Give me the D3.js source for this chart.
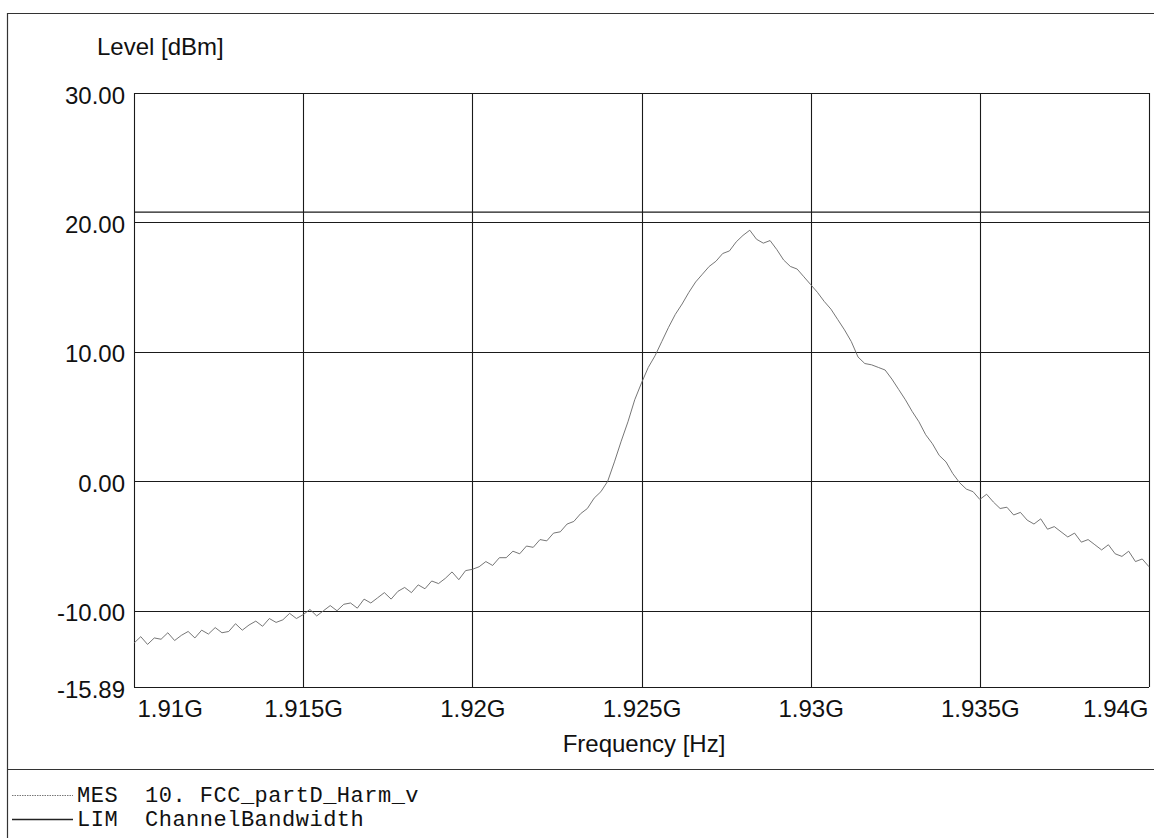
<!DOCTYPE html>
<html>
<head>
<meta charset="utf-8">
<script src="https://cdn.jsdelivr.net/npm/d3@7"></script>
<style>
  html, body { margin: 0; padding: 0; background: #fff; }
  svg { display: block; }
  text { font-family: "Liberation Sans", Arial, sans-serif; fill: #111; }
  .mono { font-family: "Liberation Mono", "Courier New", monospace; }
</style>
</head>
<body>
<svg id="chart" width="1154" height="838"></svg>
<script>
// ---------------- data ----------------
const yTicks = [30, 20, 10, 0, -10, -15.89];
const yTickLabels = ["30.00", "20.00", "10.00", "0.00", "-10.00", "-15.89"];
const xTicks = [1.91e9, 1.915e9, 1.92e9, 1.925e9, 1.93e9, 1.935e9, 1.94e9];
const xTickLabels = ["1.91G", "1.915G", "1.92G", "1.925G", "1.93G", "1.935G", "1.94G"];
const sweepStartHz = 1.91e9;
const sweepStepHz = 0.2e6;
const mesLevels = [
  -12.5, -12.0, -12.6, -12.1, -12.2, -11.7, -12.3, -11.9, -11.6, -12.1,
  -11.5, -11.8, -11.3, -11.7, -11.6, -11.0, -11.5, -11.1, -10.8, -11.2,
  -10.6, -10.9, -10.7, -10.2, -10.6, -10.3, -9.9, -10.4, -10.0, -9.6,
  -10.0, -9.5, -9.4, -9.8, -9.1, -9.4, -9.0, -8.6, -9.1, -8.5,
  -8.2, -8.6, -8.0, -8.3, -7.7, -7.9, -7.5, -7.0, -7.6, -6.9,
  -6.8, -6.6, -6.2, -6.5, -5.9, -5.9, -5.4, -5.6, -5.0, -5.1,
  -4.5, -4.6, -4.0, -3.9, -3.3, -3.1, -2.5, -2.1, -1.3, -0.8,
  0.0, 1.5, 3.1, 4.6, 6.3, 7.6, 8.8, 9.7, 10.8, 11.9,
  12.9, 13.7, 14.6, 15.4, 16.0, 16.6, 17.0, 17.6, 17.8, 18.5,
  19.0, 19.4, 18.7, 18.4, 18.6, 17.9, 17.1, 16.6, 16.4, 15.8,
  15.2, 14.6, 13.9, 13.3, 12.5, 11.7, 10.8, 9.6, 9.1, 9.0,
  8.8, 8.6, 7.9, 7.1, 6.3, 5.4, 4.6, 3.6, 2.9, 2.0,
  1.5, 0.6, -0.1, -0.6, -0.8, -1.4, -1.0, -1.6, -2.1, -2.0,
  -2.6, -2.4, -3.0, -3.3, -2.9, -3.7, -3.5, -3.9, -4.3, -4.0,
  -4.7, -4.5, -4.9, -5.3, -4.9, -5.6, -5.8, -5.4, -6.2, -6.0,
  -6.6
];
const limitLevel = 20.8;
const yTitle = "Level [dBm]";
const xTitle = "Frequency [Hz]";
const legendItems = [
  { key: "MES", name: "10. FCC_partD_Harm_v" },
  { key: "LIM", name: "ChannelBandwidth" }
];

// ---------------- layout ----------------
const svg = d3.select("#chart");
const plot = { left: 134, right: 1149, top: 93, bottom: 687 };

const x = d3.scaleLinear().domain([1.91e9, 1.94e9]).range([plot.left, plot.right]);
const y = d3.scaleLinear().domain([-15.89, 30]).range([plot.bottom, plot.top]);

const ink = "#1a1a1a";

// outer frame
svg.append("line").attr("x1", 7).attr("x2", 1154).attr("y1", 13.5).attr("y2", 13.5)
  .attr("stroke", "#333").attr("stroke-width", 1.2);
svg.append("line").attr("x1", 7.5).attr("x2", 7.5).attr("y1", 13).attr("y2", 838)
  .attr("stroke", "#333").attr("stroke-width", 1.2);
svg.append("line").attr("x1", 7).attr("x2", 1154).attr("y1", 769.5).attr("y2", 769.5)
  .attr("stroke", "#333").attr("stroke-width", 1.2);

// grid
const grid = svg.append("g");
grid.selectAll("line.h").data(yTicks).join("line")
  .attr("x1", plot.left).attr("x2", plot.right)
  .attr("y1", d => Math.round(y(d)) + 0.5).attr("y2", d => Math.round(y(d)) + 0.5)
  .attr("stroke", ink).attr("stroke-width", 1.1);
grid.selectAll("line.v").data(xTicks).join("line")
  .attr("y1", plot.top).attr("y2", plot.bottom)
  .attr("x1", d => Math.round(x(d)) + 0.5).attr("x2", d => Math.round(x(d)) + 0.5)
  .attr("stroke", ink).attr("stroke-width", 1.1);

// y axis labels
const yAxis = d3.axisLeft(y).tickValues(yTicks).tickFormat((d, i) => yTickLabels[i])
  .tickSize(0).tickPadding(9);
const gy = svg.append("g").attr("transform", `translate(${plot.left},0)`).call(yAxis);
gy.select(".domain").remove();
gy.selectAll("text").attr("font-size", 24).attr("dy", "0.42em")
  .style("font-family", "'Liberation Sans', Arial, sans-serif").attr("fill", "#111");

// x axis labels
const xAxis = d3.axisBottom(x).tickValues(xTicks)
  .tickFormat((d, i) => xTickLabels[i]).tickSize(0).tickPadding(13);
const gx = svg.append("g").attr("transform", `translate(0,${plot.bottom})`).call(xAxis);
gx.select(".domain").remove();
gx.selectAll("text").attr("font-size", 24)
  .style("font-family", "'Liberation Sans', Arial, sans-serif").attr("fill", "#111")
  .attr("text-anchor", (d, i) => i === 0 ? "start" : (i === xTicks.length - 1 ? "end" : "middle"))
  .attr("dx", (d, i) => i === 0 ? 3 : (i === xTicks.length - 1 ? -1 : 0));

// titles
svg.append("text").attr("x", 97).attr("y", 55).attr("font-size", 24).text(yTitle);
svg.append("text").attr("x", 644).attr("y", 752).attr("font-size", 24)
  .attr("text-anchor", "middle").text(xTitle);

// limit line
svg.append("line")
  .attr("x1", plot.left).attr("x2", plot.right)
  .attr("y1", y(limitLevel)).attr("y2", y(limitLevel))
  .attr("stroke", ink).attr("stroke-width", 1.3);

// measurement trace
const mesData = mesLevels.map((v, i) => ({ f: sweepStartHz + i * sweepStepHz, v }));
const line = d3.line().x(d => x(d.f)).y(d => y(d.v));
svg.append("path").datum(mesData)
  .attr("d", line)
  .attr("fill", "none")
  .attr("stroke", "#666")
  .attr("stroke-width", 0.9)
  .attr("stroke-linejoin", "round");

// legend
const lg = svg.append("g");
legendItems.forEach((it, i) => {
  const yy = 795 + i * 24;
  lg.append("line").attr("x1", 12).attr("x2", 73).attr("y1", yy + 0.5).attr("y2", yy + 0.5)
    .attr("stroke", i === 0 ? "#777" : "#222")
    .attr("stroke-width", i === 0 ? 1 : 1.3)
    .attr("stroke-dasharray", i === 0 ? "1.5,1" : null);
  lg.append("text").attr("class", "mono").attr("x", 77).attr("y", yy + 7)
    .attr("font-size", 22).attr("letter-spacing", 0.5).text(it.key);
  lg.append("text").attr("class", "mono").attr("x", 145).attr("y", yy + 7)
    .attr("font-size", 22).attr("letter-spacing", 0.5).text(it.name);
});
</script>
</body>
</html>
